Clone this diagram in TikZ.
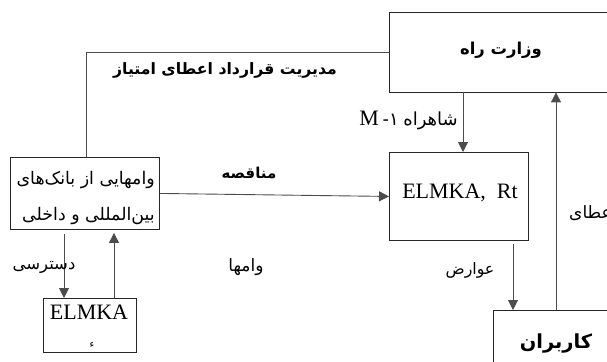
\documentclass[tikz,border=0pt]{standalone}
\usepackage{fontspec}
\setmainfont{Liberation Serif}
\newfontfamily\arabicfont[Script=Arabic]{DejaVu Sans}
\TeXXeTstate=1
\usetikzlibrary{arrows.meta}
\newcommand\farsi[1]{{\arabicfont\beginR #1\endR}}
\tikzset{
  boxline/.style={draw=black!85, line width=0.9pt},
  box/.style={boxline, rectangle, inner sep=0pt, anchor=north west},
  openbox/.style={rectangle, inner sep=0pt, anchor=north west},
  conn/.style={draw=black!70, line width=0.9pt},
  arr/.style={conn, -{Triangle[length=10pt,width=10pt]}},
  lbl/.style={inner sep=0pt, text=black},
}
\begin{document}
\begin{tikzpicture}[x=1pt,y=-1pt]
\useasboundingbox (0,0) rectangle (607,361);
% boxes
\node[openbox, minimum width=240pt, minimum height=80pt] (wz) at (389,12) {};
\draw[boxline] (wz.north east) -- (wz.north west) -- (wz.south west) -- (wz.south east);
\node[box, minimum width=149pt, minimum height=72pt] (lb) at (10,157) {};
\node[box, minimum width=93pt, minimum height=54pt] (el) at (43,298) {};
\node[box, minimum width=139pt, minimum height=88pt] (rt) at (389,152) {};
\node[openbox, minimum width=140pt, minimum height=90pt] (kb) at (493,310) {};
\draw[boxline] (kb.south west) -- (kb.north west) -- (kb.north east);
% box texts
\node[lbl] (wzt) at (501,50) {\fontsize{16.4}{19}\selectfont\bfseries\farsi{وزارت راه}};
\node[lbl, anchor=east] (lbt1) at (155,180) {\fontsize{17.4}{20}\selectfont\farsi{وامهایی از بانک‌های}};
\node[lbl, anchor=east] (lbt2) at (155,216) {\fontsize{17.4}{20}\selectfont\farsi{بین‌المللی و داخلی}};
\node[lbl] (elt) at (89,312) {\fontsize{22}{24}\selectfont ELMKA};
\node[lbl] (elt2) at (92,345) {\fontsize{10}{11}\selectfont\farsi{ء}};
\node[lbl] (rtt) at (460,193) {\fontsize{22}{24}\selectfont ELMKA,\ \ Rt};
\node[lbl] (kbt) at (556,343) {\fontsize{19.4}{22}\selectfont\bfseries\farsi{کاربران}};
% connector coordinates
\coordinate (xa) at (86,52);
\coordinate (xb) at (463,0);
\coordinate (xc) at (556,0);
\coordinate (xd) at (513,0);
\coordinate (xe) at (64,0);
\coordinate (xf) at (114,0);
% connectors
\draw[conn] (lb.north -| xa) |- (wz.west);
\draw[arr] (wz.south -| xb) -- (rt.north -| xb);
\draw[arr] (kb.north -| xc) -- (wz.south -| xc);
\draw[arr] ([yshift=-3pt]rt.south -| xd) -- (kb.north -| xd);
\draw[arr] (lb.east) -- (rt.west);
\draw[arr] ([yshift=-4pt]lb.south -| xe) -- (el.north -| xe);
\draw[arr] (el.north -| xf) -- ([yshift=-3pt]lb.south -| xf);
% connector labels
\node[lbl] (l1) at (225,70) {\fontsize{15.7}{18}\selectfont\bfseries\farsi{مدیریت قرارداد اعطای امتیاز}};
\node[lbl, anchor=east] (l2) at (458,120) {\fontsize{22}{24}\selectfont M\,\fontsize{18}{20}\selectfont{\arabicfont ١-} \farsi{شاهراه}};
\node[lbl] (l3) at (249,173) {\fontsize{15}{18}\selectfont\bfseries\farsi{مناقصه}};
\node[lbl] (l4) at (44,267) {\fontsize{16.5}{18}\selectfont\farsi{دسترسی}};
\node[lbl] (l5) at (246,267) {\fontsize{17}{19}\selectfont\farsi{وامها}};
\node[lbl] (l6) at (470,270) {\fontsize{15.8}{18}\selectfont\farsi{عوارض}};
\begin{scope}
\clip (0,0) rectangle (607,361);
\node[lbl, anchor=west] (l7) at (569,213) {\fontsize{17}{19}\selectfont\farsi{اعطای}};
\end{scope}
\end{tikzpicture}
\end{document}
